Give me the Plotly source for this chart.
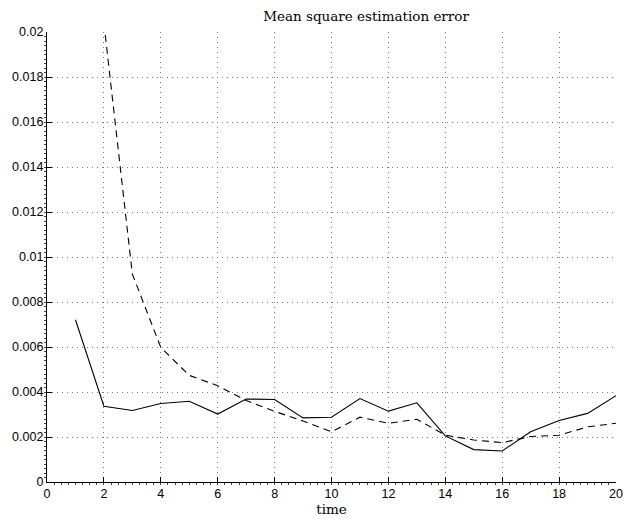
import plotly.graph_objects as go

time = list(range(1, 21))
solid_err = [0.00721, 0.00337, 0.00318, 0.00349, 0.00359, 0.00302, 0.00369, 0.00367,
             0.00285, 0.00288, 0.00371, 0.00315, 0.00352, 0.00205, 0.00144, 0.00138,
             0.00223, 0.00273, 0.00305, 0.00384]
dashed_time = list(range(2, 21))
dashed_err = [0.0204, 0.00924, 0.00598, 0.00474, 0.00428, 0.00362, 0.00314, 0.00271,
              0.00223, 0.00288, 0.00261, 0.00279, 0.00208, 0.00187, 0.00175, 0.00202,
              0.00208, 0.00245, 0.00261]
x_ticks = list(range(0, 21, 2))
y_ticks = [i * 0.002 for i in range(11)]
y_labels = ["0", "0.002", "0.004", "0.006", "0.008", "0.01", "0.012", "0.014",
            "0.016", "0.018", "0.02"]

fig = go.Figure()
fig.add_trace(go.Scatter(x=time, y=solid_err, mode="lines",
                         line=dict(color="black", width=1.1), showlegend=False))
fig.add_trace(go.Scatter(x=dashed_time, y=dashed_err, mode="lines",
                         line=dict(color="black", width=1.1, dash="7px,5px"), showlegend=False))

axis_font = dict(family="Liberation Sans, Arial, sans-serif", size=12.5, color="black")
grid = dict(showgrid=True, gridcolor="#777", griddash="1px,4px", gridwidth=1)
fig.update_layout(
    width=629, height=519,
    margin=dict(l=47, r=6, t=32, b=32),
    paper_bgcolor="white", plot_bgcolor="white",
    title=dict(text="Mean square estimation error", x=366 / 629, xanchor="center",
               y=1 - 16 / 519, yanchor="middle",
               font=dict(family="DejaVu Serif, serif", size=13.5, color="black")),
    xaxis=dict(range=[0, 20], tickvals=x_ticks, ticktext=[str(v) for v in x_ticks],
               **grid,
               showline=True, linecolor="black", linewidth=1.2, mirror=False,
               ticks="inside", ticklen=5, tickcolor="black", tickwidth=1,
               tickfont=axis_font, zeroline=False, ticklabeloverflow="allow",
               minor=dict(dtick=0.25, ticks="outside", ticklen=2, tickcolor="#444", showgrid=False),
               title=dict(text="time", standoff=2,
                          font=dict(family="DejaVu Serif, serif", size=13.5, color="black"))),
    yaxis=dict(range=[0, 0.02], tickvals=y_ticks, ticktext=y_labels,
               **grid,
               showline=True, linecolor="black", linewidth=1.2, mirror=False,
               ticks="inside", ticklen=5, tickcolor="black", tickwidth=1,
               tickfont=axis_font, zeroline=False, ticklabeloverflow="allow",
               minor=dict(dtick=0.0002, ticks="outside", ticklen=2, tickcolor="#444", showgrid=False)),
)

fig.write_html("out.html")
